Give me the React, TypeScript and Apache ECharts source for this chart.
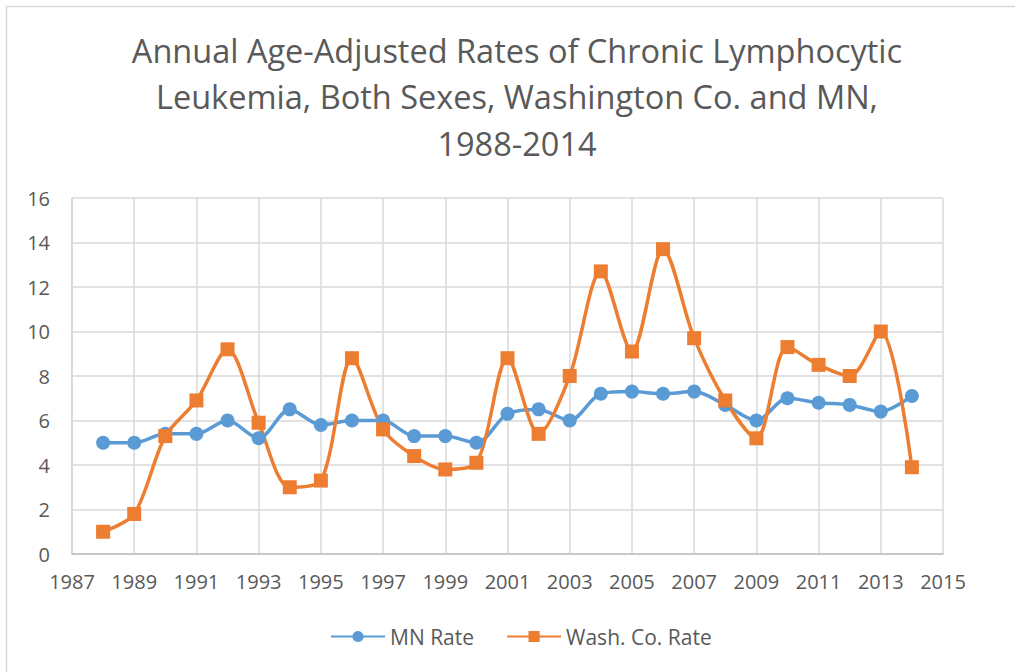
import React, { useEffect, useRef } from "react";
import * as echarts from "echarts";

const years = [1988, 1989, 1990, 1991, 1992, 1993, 1994, 1995, 1996, 1997, 1998, 1999, 2000, 2001, 2002, 2003, 2004, 2005, 2006, 2007, 2008, 2009, 2010, 2011, 2012, 2013, 2014];
const mnRate = [5.0, 5.0, 5.4, 5.4, 6.0, 5.2, 6.5, 5.8, 6.0, 6.0, 5.3, 5.3, 5.0, 6.3, 6.5, 6.0, 7.2, 7.3, 7.2, 7.3, 6.7, 6.0, 7.0, 6.8, 6.7, 6.4, 7.1];
const washRate = [1.0, 1.8, 5.3, 6.9, 9.2, 5.9, 3.0, 3.3, 8.8, 5.6, 4.4, 3.8, 4.1, 8.8, 5.4, 8.0, 12.7, 9.1, 13.7, 9.7, 6.9, 5.2, 9.3, 8.5, 8.0, 10.0, 3.9];
const titleText = "Annual Age-Adjusted Rates of Chronic Lymphocytic\nLeukemia, Both Sexes, Washington Co. and MN,\n1988-2014";

const FONT = "'Open Sans', 'Noto Sans', sans-serif";

export default function App() {
  const ref = useRef<HTMLDivElement>(null);
  useEffect(() => {
    document.body.style.margin = "0";
    const chart = echarts.init(ref.current!, null, { renderer: "svg" });
    chart.setOption({
      animation: false,
      backgroundColor: "#ffffff",
      title: {
        text: titleText,
        left: 512,
        textAlign: "center",
        top: 22,
        textStyle: {
          fontFamily: FONT,
          fontWeight: 400,
          fontSize: 32.5,
          lineHeight: 46.5,
          color: "#595959",
        },
      },
      graphic: [
        {
          type: "rect",
          shape: { x: 6.5, y: 6.5, width: 1100, height: 800 },
          style: { fill: "none", stroke: "#d9d9d9", lineWidth: 1.5 },
          silent: true,
        },
      ],
      legend: {
        bottom: 20,
        left: 325,
        itemWidth: 54,
        itemHeight: 14,
        itemGap: 32,
        textStyle: { fontFamily: FONT, fontSize: 21, color: "#595959" },
        data: ["MN Rate", "Wash. Co. Rate"],
      },
      grid: { left: 72, right: 72, top: 198, bottom: 118 },
      xAxis: {
        type: "value",
        min: 1987,
        max: 2015,
        interval: 2,
        axisLine: { show: true, lineStyle: { color: "#bfbfbf", width: 1.5 } },
        axisTick: { show: false },
        splitLine: { show: true, lineStyle: { color: "#d9d9d9", width: 1.5 } },
        axisLabel: {
          fontFamily: FONT,
          fontSize: 20,
          color: "#595959",
          margin: 17,
          formatter: (v: number) => String(v),
        },
      },
      yAxis: {
        type: "value",
        min: 0,
        max: 16,
        interval: 2,
        axisLine: { show: true, lineStyle: { color: "#d9d9d9", width: 1.5 } },
        axisTick: { show: false },
        splitLine: { show: true, lineStyle: { color: "#d9d9d9", width: 1.5 } },
        axisLabel: { fontFamily: FONT, fontSize: 20, color: "#595959", margin: 22 },
      },
      series: [
        {
          name: "MN Rate",
          type: "line",
          data: years.map((y, i) => [y, mnRate[i]]),
          smooth: 0.3,
          symbol: "circle",
          symbolSize: 14,
          lineStyle: { color: "#5B9BD5", width: 3.5 },
          itemStyle: { color: "#5B9BD5" },
        },
        {
          name: "Wash. Co. Rate",
          type: "line",
          data: years.map((y, i) => [y, washRate[i]]),
          smooth: 0.3,
          symbol: "rect",
          symbolSize: 14,
          lineStyle: { color: "#ED7D31", width: 3.5 },
          itemStyle: { color: "#ED7D31" },
        },
      ],
    });
    return () => chart.dispose();
  }, []);
  return <div ref={ref} style={{ width: 1015, height: 672 }} />;
}
